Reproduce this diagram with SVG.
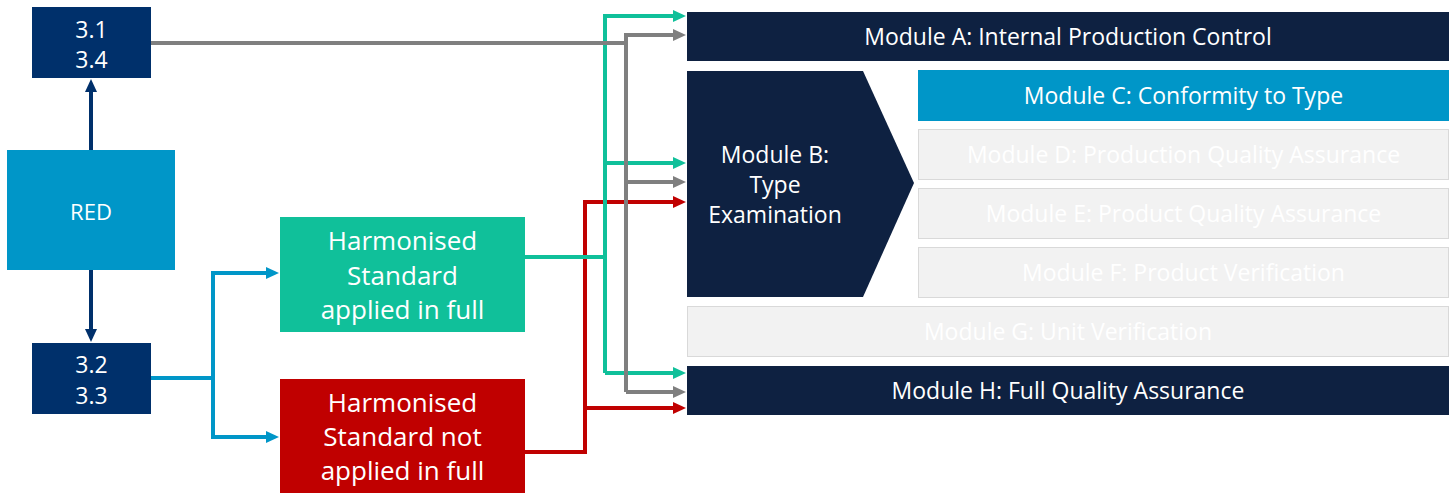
<svg xmlns="http://www.w3.org/2000/svg" width="1453" height="494" viewBox="0 0 1453 494">
<style>
text{font-family:"Open Sans","Liberation Sans",sans-serif;fill:#fff;text-anchor:middle}
.m{font-size:23px}
.r{font-size:22px}
.big{font-size:26px}
.c{fill:none;stroke-width:4}
.navy{fill:#0e2141}
.ghost{fill:#f2f2f2;stroke:#d9d9d9;stroke-width:1}
</style>
<defs>
<marker id="aG" markerUnits="userSpaceOnUse" markerWidth="13" markerHeight="12" refX="1" refY="6" orient="auto"><path d="M0,0L13,6L0,12z" fill="#7f7f7f"/></marker>
<marker id="aT" markerUnits="userSpaceOnUse" markerWidth="13" markerHeight="12" refX="1" refY="6" orient="auto"><path d="M0,0L13,6L0,12z" fill="#10c09a"/></marker>
<marker id="aR" markerUnits="userSpaceOnUse" markerWidth="13" markerHeight="12" refX="1" refY="6" orient="auto"><path d="M0,0L13,6L0,12z" fill="#c00000"/></marker>
<marker id="aB" markerUnits="userSpaceOnUse" markerWidth="13" markerHeight="12" refX="1" refY="6" orient="auto"><path d="M0,0L13,6L0,12z" fill="#0096c8"/></marker>
<marker id="aN" markerUnits="userSpaceOnUse" markerWidth="13" markerHeight="12" refX="1" refY="6" orient="auto"><path d="M0,0L13,6L0,12z" fill="#00306b"/></marker>
</defs>

<g id="connectors">
<path class="c" stroke="#00306b" stroke-width="3" d="M91 150V91" marker-end="url(#aN)"/>
<path class="c" stroke="#00306b" stroke-width="3" d="M91 270V330" marker-end="url(#aN)"/>
<path class="c" stroke="#0096c8" d="M151 378H213V273H267" marker-end="url(#aB)"/>
<path class="c" stroke="#0096c8" d="M213 378V437H267" marker-end="url(#aB)"/>
<path class="c" stroke="#c00000" d="M525 452H585V202H674" marker-end="url(#aR)"/>
<path class="c" stroke="#c00000" d="M585 408H674" marker-end="url(#aR)"/>
<path class="c" stroke="#10c09a" d="M525 257H605"/>
<path class="c" stroke="#10c09a" d="M605 373V16H674" marker-end="url(#aT)"/>
<path class="c" stroke="#10c09a" d="M605 163H674" marker-end="url(#aT)"/>
<path class="c" stroke="#10c09a" d="M605 373H674" marker-end="url(#aT)"/>
<path class="c" stroke="#7f7f7f" d="M151 43H626"/>
<path class="c" stroke="#7f7f7f" d="M626 392V35H674" marker-end="url(#aG)"/>
<path class="c" stroke="#7f7f7f" d="M626 182H674" marker-end="url(#aG)"/>
<path class="c" stroke="#7f7f7f" d="M626 392H674" marker-end="url(#aG)"/>
</g>

<g id="n31">
<rect x="32" y="7" width="119" height="71" fill="#00306b"/>
<text class="m" x="91.5" y="38">3.1</text>
<text class="m" x="91.5" y="68">3.4</text>
</g>
<g id="red">
<rect x="7" y="150" width="168" height="120" fill="#0096c8"/>
<text class="r" x="91" y="220">RED</text>
</g>
<g id="n32">
<rect x="32" y="343" width="119" height="71" fill="#00306b"/>
<text class="m" x="91.5" y="373">3.2</text>
<text class="m" x="91.5" y="404">3.3</text>
</g>
<g id="hsfull">
<rect x="280" y="217" width="245" height="115" fill="#10c09a"/>
<text class="big" x="402.5" y="250">Harmonised</text>
<text class="big" x="402.5" y="285">Standard</text>
<text class="big" x="402.5" y="319">applied in full</text>
</g>
<g id="hsnot">
<rect x="280" y="379" width="245" height="114" fill="#c00000"/>
<text class="big" x="402.5" y="412">Harmonised</text>
<text class="big" x="402.5" y="446">Standard not</text>
<text class="big" x="402.5" y="480">applied in full</text>
</g>
<g id="modA">
<rect class="navy" x="687" y="12" width="762" height="49"/>
<text class="m" x="1068" y="45">Module A: Internal Production Control</text>
</g>
<g id="modB">
<path class="navy" d="M687 71H863L914 183L863 297H687z"/>
<text class="m" x="775" y="163">Module B:</text>
<text class="m" x="775" y="193">Type</text>
<text class="m" x="775" y="223">Examination</text>
</g>
<g id="modC">
<rect x="918" y="70" width="531" height="51" fill="#0096c8"/>
<text class="m" x="1183.5" y="104">Module C: Conformity to Type</text>
</g>
<g id="modD">
<rect class="ghost" x="918.5" y="129.5" width="530" height="50"/>
<text class="m" x="1183.5" y="163">Module D: Production Quality Assurance</text>
</g>
<g id="modE">
<rect class="ghost" x="918.5" y="188.5" width="530" height="50"/>
<text class="m" x="1183.5" y="222">Module E: Product Quality Assurance</text>
</g>
<g id="modF">
<rect class="ghost" x="918.5" y="247.5" width="530" height="50"/>
<text class="m" x="1183.5" y="281">Module F: Product Verification</text>
</g>
<g id="modG">
<rect class="ghost" x="687.5" y="306.5" width="761" height="50"/>
<text class="m" x="1068" y="340">Module G: Unit Verification</text>
</g>
<g id="modH">
<rect class="navy" x="687" y="366" width="762" height="49"/>
<text class="m" x="1068" y="399">Module H: Full Quality Assurance</text>
</g>
</svg>
